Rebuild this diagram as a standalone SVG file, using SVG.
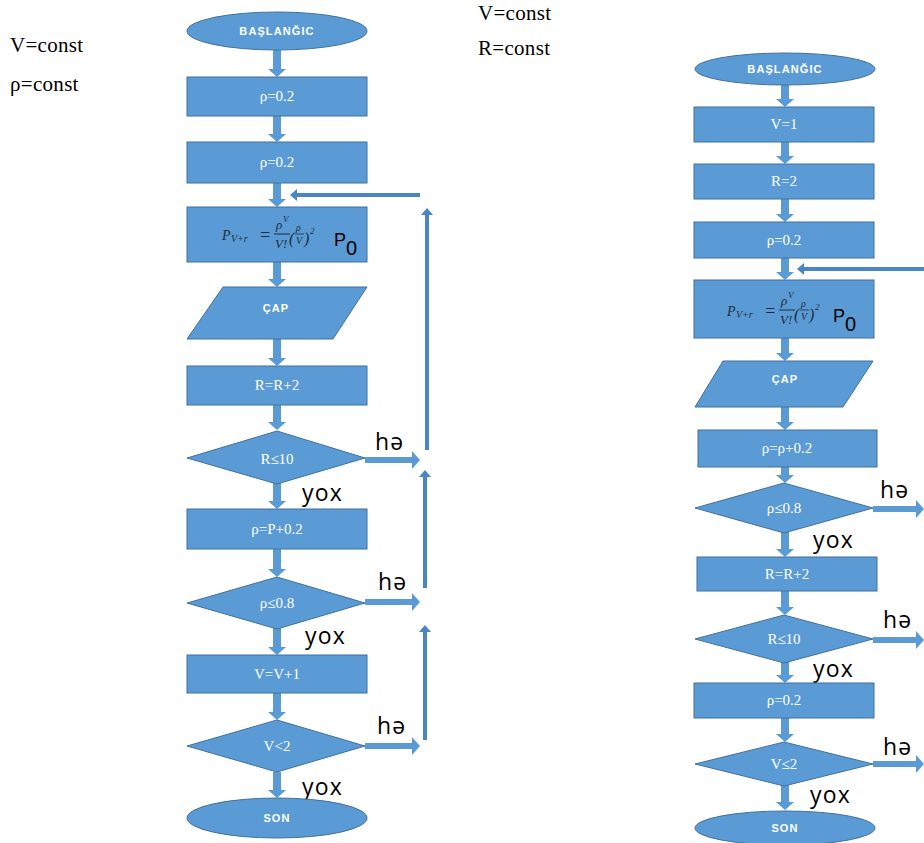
<svg xmlns="http://www.w3.org/2000/svg" width="924" height="843" viewBox="0 0 924 843">
<style>
.n{fill:#5B9BD5;stroke:#41719C;stroke-width:1}
.t{font-family:"Liberation Serif",serif;font-size:15px;fill:#fff;text-anchor:middle}
.ts{font-family:"Liberation Sans",sans-serif;font-size:11px;font-weight:bold;fill:#fff;text-anchor:middle;letter-spacing:1.1px}
.lab{font-family:"Open Sans",sans-serif;font-size:23px;fill:#000;letter-spacing:1.2px}
.c{font-family:"Liberation Serif",serif;font-size:21px;fill:#000;letter-spacing:0.3px}
.f{font-family:"Liberation Serif",serif;font-style:italic;fill:#1E2B3C}
.fb{font-family:"Liberation Sans",sans-serif;fill:#000}
.a{stroke:#5B9BD5;stroke-width:8;fill:none;marker-end:url(#ah)}
.h{stroke:#5B9BD5;stroke-width:6;fill:none;marker-end:url(#ah)}
.b{stroke:#4A86C5;stroke-width:4;fill:none;marker-end:url(#ah2)}
</style>
<defs>
<marker id="ah" markerUnits="userSpaceOnUse" markerWidth="8" markerHeight="18" viewBox="0 0 8 18" refX="0" refY="9" orient="auto"><path d="M0,0 L8,9 L0,18 z" fill="#5B9BD5"/></marker>
<marker id="ah2" markerUnits="userSpaceOnUse" markerWidth="7" markerHeight="12" viewBox="0 0 7 12" refX="0" refY="6" orient="auto"><path d="M0,0 L7,6 L0,12 z" fill="#4A86C5"/></marker>
</defs>
<rect width="924" height="843" fill="#fff"/>
<g id="consts">
<text class="c" x="10" y="52">V=const</text>
<text class="c" x="10" y="91">ρ=const</text>
<text class="c" x="478" y="20">V=const</text>
<text class="c" x="478" y="55">R=const</text>
</g>
<g id="connectors">
<line class="a" x1="277" y1="50" x2="277" y2="69"/>
<line class="a" x1="277" y1="116" x2="277" y2="134"/>
<line class="a" x1="277" y1="183" x2="277" y2="199"/>
<line class="a" x1="277" y1="262" x2="277" y2="279"/>
<line class="a" x1="277" y1="339" x2="277" y2="358"/>
<line class="a" x1="277" y1="405" x2="277" y2="422"/>
<line class="a" x1="277" y1="483" x2="277" y2="501"/>
<line class="a" x1="277" y1="549" x2="277" y2="569"/>
<line class="a" x1="277" y1="628" x2="277" y2="647"/>
<line class="a" x1="277" y1="693" x2="277" y2="712"/>
<line class="a" x1="277" y1="772" x2="277" y2="790"/>
<line class="h" x1="365" y1="460" x2="412" y2="460"/>
<line class="h" x1="365" y1="602" x2="412" y2="602"/>
<line class="h" x1="365" y1="746" x2="412" y2="746"/>
<line class="b" x1="420" y1="195" x2="297" y2="195"/>
<line class="b" x1="427" y1="450" x2="427" y2="215"/>
<line class="b" x1="425" y1="588" x2="425" y2="477"/>
<line class="b" x1="425" y1="740" x2="425" y2="632"/>
<line class="a" x1="785" y1="85" x2="785" y2="99"/>
<line class="a" x1="785" y1="142" x2="785" y2="156"/>
<line class="a" x1="785" y1="199" x2="785" y2="214"/>
<line class="a" x1="785" y1="258" x2="785" y2="272"/>
<line class="a" x1="785" y1="338" x2="785" y2="353"/>
<line class="a" x1="785" y1="407" x2="785" y2="422"/>
<line class="a" x1="785" y1="467" x2="785" y2="475"/>
<line class="a" x1="785" y1="532" x2="785" y2="549"/>
<line class="a" x1="785" y1="591" x2="785" y2="607"/>
<line class="a" x1="785" y1="662" x2="785" y2="675"/>
<line class="a" x1="785" y1="718" x2="785" y2="734"/>
<line class="a" x1="785" y1="785" x2="785" y2="802"/>
<line class="h" x1="873" y1="509" x2="916" y2="509"/>
<line class="h" x1="873" y1="640" x2="916" y2="640"/>
<line class="h" x1="873" y1="764" x2="916" y2="764"/>
<line class="b" x1="924" y1="269" x2="804" y2="269"/>
</g>
<g id="labels">
<text class="lab" x="375" y="450">hə</text>
<text class="lab" x="302" y="501">yox</text>
<text class="lab" x="378" y="590">hə</text>
<text class="lab" x="305" y="644">yox</text>
<text class="lab" x="377" y="734">hə</text>
<text class="lab" x="302" y="795">yox</text>
<text class="lab" x="880" y="498">hə</text>
<text class="lab" x="813" y="548">yox</text>
<text class="lab" x="883" y="628">hə</text>
<text class="lab" x="813" y="677">yox</text>
<text class="lab" x="883" y="755">hə</text>
<text class="lab" x="810" y="803">yox</text>
</g>
<g id="L-start"><ellipse class="n" cx="277" cy="31" rx="90" ry="19"/><text class="ts" x="277" y="35">BAŞLANĞIC</text></g>
<g id="L-rho1"><rect class="n" x="187" y="77" width="180" height="39"/><text class="t" x="277" y="101">ρ=0.2</text></g>
<g id="L-rho2"><rect class="n" x="187" y="142" width="180" height="41"/><text class="t" x="277" y="167">ρ=0.2</text></g>
<g id="L-formula"><rect class="n" x="187" y="207" width="180" height="55"/>
<g>
<text class="f" x="222" y="240" font-size="14">P</text>
<text class="f" x="231" y="242" font-size="10">V+r</text>
<text class="f" x="259" y="241" font-size="18" font-style="normal">=</text>
<text class="f" x="276" y="229" font-size="13">ρ</text>
<text class="f" x="283" y="222" font-size="9">V</text>
<line x1="274" y1="234" x2="290" y2="234" stroke="#1E2B3C" stroke-width="1"/>
<text class="f" x="275" y="248" font-size="13">V!</text>
<text class="f" x="289" y="244" font-size="16" font-style="normal">(</text>
<text class="f" x="296" y="231" font-size="10">ρ</text>
<line x1="295" y1="234" x2="304" y2="234" stroke="#1E2B3C" stroke-width="0.8"/>
<text class="f" x="296" y="244" font-size="10">V</text>
<text class="f" x="304" y="244" font-size="16" font-style="normal">)</text>
<text class="f" x="310" y="234" font-size="9" font-style="normal">2</text>
<text class="fb" x="334" y="246" font-size="18">P</text>
<text class="fb" x="346" y="255" font-size="20">0</text>
</g></g>
<g id="L-cap"><polygon class="n" points="223,287 367,287 333,339 187,339"/><text class="ts" x="276" y="312" font-size="12">ÇAP</text></g>
<g id="L-rr2"><rect class="n" x="187" y="366" width="180" height="39"/><text class="t" x="277" y="390">R=R+2</text></g>
<g id="L-d1"><polygon class="n" points="277,431 365,458 277,484 187,458"/><text class="t" x="277" y="464" font-size="14">R≤10</text></g>
<g id="L-rhoP"><rect class="n" x="187" y="509" width="180" height="40"/><text class="t" x="277" y="534">ρ=P+0.2</text></g>
<g id="L-d2"><polygon class="n" points="277,577 365,603 277,629 187,603"/><text class="t" x="277" y="608" font-size="14">ρ≤0.8</text></g>
<g id="L-vv1"><rect class="n" x="187" y="655" width="180" height="38"/><text class="t" x="277" y="679">V=V+1</text></g>
<g id="L-d3"><polygon class="n" points="277,720 365,746 277,772 187,746"/><text class="t" x="277" y="751" font-size="14">V&lt;2</text></g>
<g id="L-end"><ellipse class="n" cx="277" cy="818" rx="90" ry="20"/><text class="ts" x="277" y="822">SON</text></g>
<g id="R-start"><ellipse class="n" cx="785" cy="69" rx="90" ry="16"/><text class="ts" x="785" y="73">BAŞLANĞIC</text></g>
<g id="R-v1"><rect class="n" x="694" y="107" width="180" height="35"/><text class="t" x="784" y="129">V=1</text></g>
<g id="R-r2"><rect class="n" x="694" y="164" width="180" height="35"/><text class="t" x="784" y="186">R=2</text></g>
<g id="R-rho"><rect class="n" x="694" y="222" width="180" height="36"/><text class="t" x="784" y="245">ρ=0.2</text></g>
<g id="R-formula"><rect class="n" x="694" y="280" width="180" height="58"/>
<g transform="translate(505,76)">
<text class="f" x="222" y="240" font-size="14">P</text>
<text class="f" x="231" y="242" font-size="10">V+r</text>
<text class="f" x="259" y="241" font-size="18" font-style="normal">=</text>
<text class="f" x="276" y="229" font-size="13">ρ</text>
<text class="f" x="283" y="222" font-size="9">V</text>
<line x1="274" y1="234" x2="290" y2="234" stroke="#1E2B3C" stroke-width="1"/>
<text class="f" x="275" y="248" font-size="13">V!</text>
<text class="f" x="289" y="244" font-size="16" font-style="normal">(</text>
<text class="f" x="296" y="231" font-size="10">ρ</text>
<line x1="295" y1="234" x2="304" y2="234" stroke="#1E2B3C" stroke-width="0.8"/>
<text class="f" x="296" y="244" font-size="10">V</text>
<text class="f" x="304" y="244" font-size="16" font-style="normal">)</text>
<text class="f" x="310" y="234" font-size="9" font-style="normal">2</text>
<text class="fb" x="328" y="246" font-size="18">P</text>
<text class="fb" x="340" y="255" font-size="20">0</text>
</g></g>
<g id="R-cap"><polygon class="n" points="723,361 873,361 843,407 695,407"/><text class="ts" x="785" y="383" font-size="12">ÇAP</text></g>
<g id="R-rhoinc"><rect class="n" x="698" y="430" width="179" height="37"/><text class="t" x="787" y="453">ρ=ρ+0.2</text></g>
<g id="R-d1"><polygon class="n" points="784,483 873,508 784,533 695,508"/><text class="t" x="784" y="513" font-size="14">ρ≤0.8</text></g>
<g id="R-rr2"><rect class="n" x="697" y="557" width="180" height="34"/><text class="t" x="787" y="579">R=R+2</text></g>
<g id="R-d2"><polygon class="n" points="784,615 873,639 784,663 695,639"/><text class="t" x="784" y="644" font-size="14">R≤10</text></g>
<g id="R-rho2"><rect class="n" x="694" y="683" width="180" height="35"/><text class="t" x="784" y="705">ρ=0.2</text></g>
<g id="R-d3"><polygon class="n" points="784,742 873,764 784,786 695,764"/><text class="t" x="784" y="769" font-size="14">V≤2</text></g>
<g id="R-end"><ellipse class="n" cx="785" cy="828" rx="90" ry="17"/><text class="ts" x="785" y="832">SON</text></g>
</svg>
